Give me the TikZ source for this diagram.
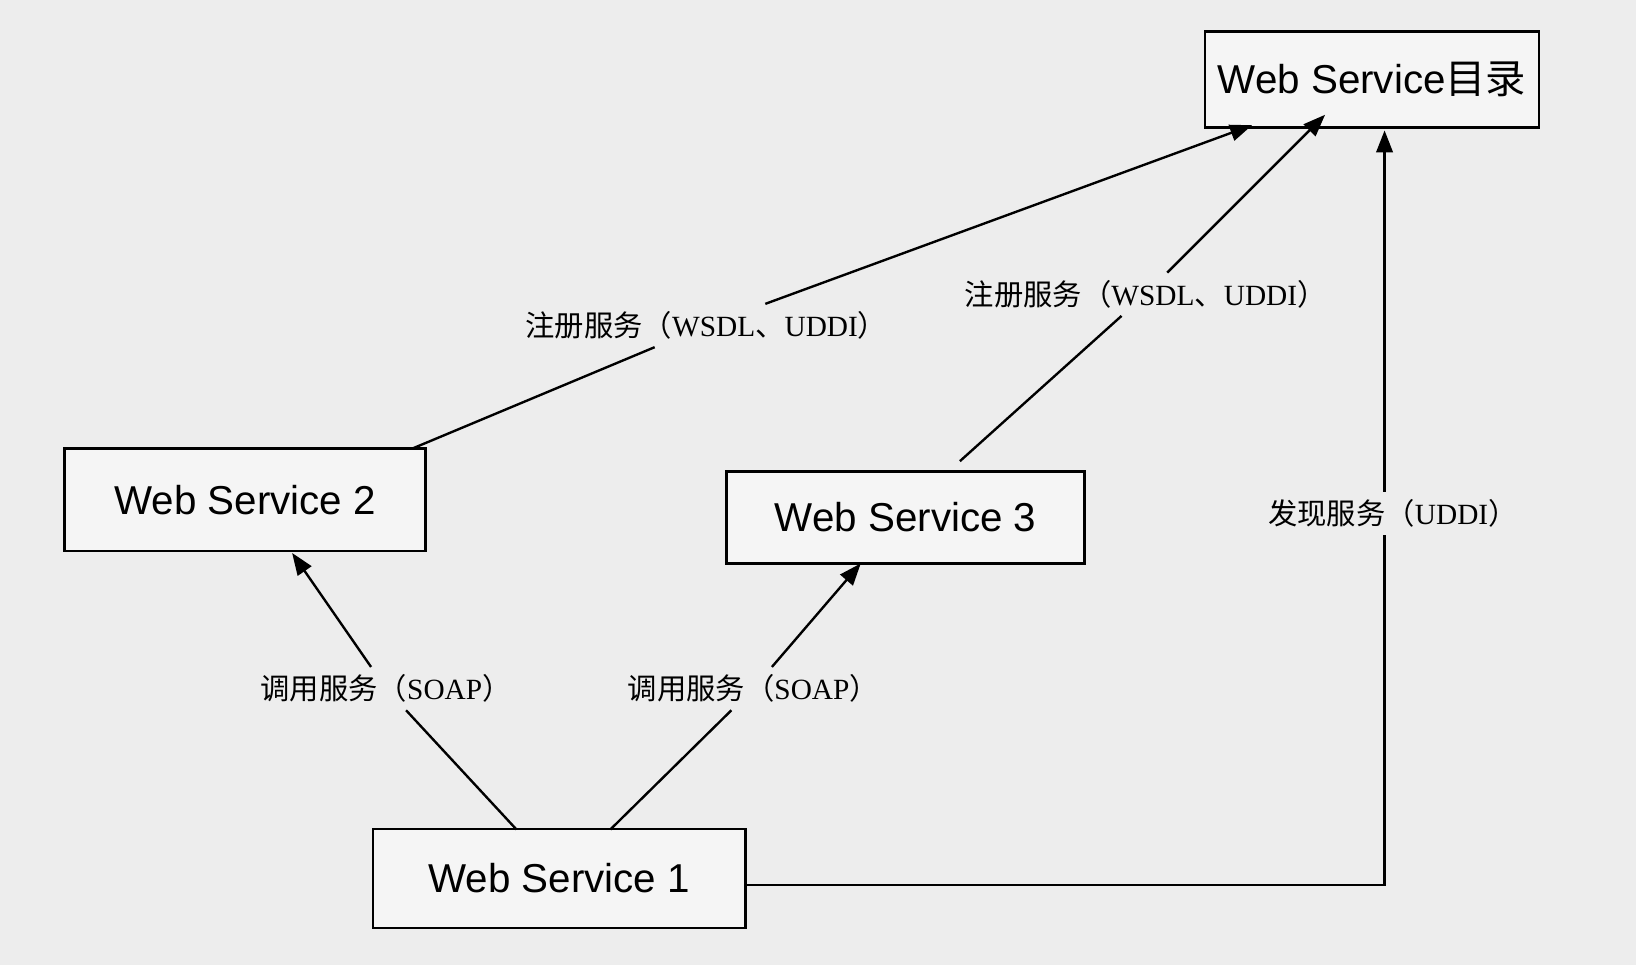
\documentclass[tikz,border=0pt]{standalone}
\usepackage{fontspec}
\setmainfont{Liberation Serif}
\setsansfont{Liberation Sans}
\newfontfamily\cjk{Noto Sans CJK SC}
\usetikzlibrary{arrows.meta}
\begin{document}
\begin{tikzpicture}[x=0.02cm,y=-0.02cm,
  box/.style={draw,line width=1.4pt,fill=white!96!black,font=\sffamily\fontsize{22}{26}\selectfont,inner sep=0pt},
  lab/.style={font=\fontsize{16}{19}\selectfont,inner sep=4pt},
  conn/.style={line width=1.3pt},
  arr/.style={conn,-{Triangle[length=12pt,width=9pt]}}]
\fill[black!7] (0,0) rectangle (1568,925);
\useasboundingbox (0,0) rectangle (1568,925);
\node[box,minimum width=320*0.02cm,minimum height=92*0.02cm] (dir) at (1315,76) {Web Service{\cjk 目录}};
\node[box,minimum width=346*0.02cm,minimum height=98*0.02cm] (ws2) at (235,479) {Web Service 2};
\node[box,minimum width=343*0.02cm,minimum height=88*0.02cm] (ws3) at (868,496) {Web Service 3};
\node[box,minimum width=357*0.02cm,minimum height=95*0.02cm] (ws1) at (536,842) {Web Service 1};
\node[lab] (l1) at (677,312) {{\cjk 注册服务（}WSDL{\cjk 、}UDDI{\cjk ）}};
\node[lab] (l2) at (1098,282) {{\cjk 注册服务（}WSDL{\cjk 、}UDDI{\cjk ）}};
\node[lab] (l3) at (1335,492) {{\cjk 发现服务（}UDDI{\cjk ）}};
\node[lab] (l4) at (370,660) {{\cjk 调用服务（}SOAP{\cjk ）}};
\node[lab] (l5) at (722,660) {{\cjk 调用服务（}SOAP{\cjk ）}};
\coordinate (d1) at (1200,120);
\coordinate (d2) at (1270,110);
\coordinate (d3) at (1327,125);
\coordinate (c1) at (1327,848);
\coordinate (t1) at (495,795);
\coordinate (t2) at (585,795);
\draw[conn] (395,430) -- (l1);
\draw[arr] (l1) -- (d1);
\draw[conn] (920,442) -- (l2);
\draw[arr] (l2) -- (d2);
\draw[conn] (ws1.east |- c1) -- (c1) -- (c1 |- l3.south);
\draw[arr] (d3 |- l3.north) -- (d3);
\draw[conn] (t1) -- (l4);
\draw[arr] (l4) -- (280,530);
\draw[conn] (t2) -- (l5);
\draw[arr] (l5) -- (825,540);
\end{tikzpicture}
\end{document}
